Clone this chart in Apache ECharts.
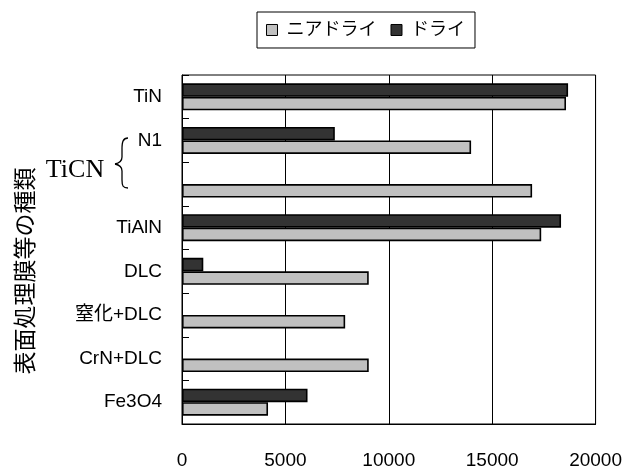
<!DOCTYPE html>
<html><head><meta charset="utf-8">
<script src="https://cdn.jsdelivr.net/npm/echarts@6/dist/echarts.min.js"></script>
<style>html,body{margin:0;padding:0;background:#fff}#c{width:625px;height:471px}</style>
</head><body><div id="c"></div>
<script>
const categories = ['TiN', 'N1', '', 'TiAlN', 'DLC', '窒化+DLC', 'CrN+DLC', 'Fe3O4'];
const nearDry = [18570, 13980, 16930, 17370, 9030, 7890, 9030, 4160];
const dry = [18670, 7390, null, 18330, 1030, null, null, 6070];
const xTicks = [0, 5000, 10000, 15000, 20000];
const seriesNames = ['ニアドライ', 'ドライ'];
const axisTitle = '表面処理膜等の種類';
const groupLabel = 'TiCN';

const jp = '"Liberation Sans", Arial, "Noto Sans CJK JP", sans-serif';
const braceStyle = { stroke: '#000', lineWidth: 1.3, fill: null };
const chart = echarts.init(document.getElementById('c'));
chart.setOption({
  animation: false,
  backgroundColor: '#fff',
  legend: {
    data: seriesNames,
    left: 257, top: 12,
    padding: [9, 10, 9, 9],
    itemGap: 14,
    borderColor: '#000', borderWidth: 1,
    icon: 'rect', itemWidth: 11, itemHeight: 11,
    textStyle: { fontSize: 18, color: '#000', fontFamily: jp, padding: [0, 0, 0, 4] },
    itemStyle: { borderColor: '#000', borderWidth: 1 }
  },
  grid: { left: 182, right: 28, top: 75, bottom: 47, show: true, borderColor: '#000', borderWidth: 1 },
  xAxis: {
    type: 'value', min: xTicks[0], max: xTicks[xTicks.length - 1], interval: xTicks[1] - xTicks[0],
    axisLine: { show: true, lineStyle: { color: '#000' } },
    axisTick: { show: false },
    splitLine: { show: true, lineStyle: { color: '#000', width: 1 } },
    axisLabel: { fontSize: 19, color: '#000', margin: 27, fontFamily: jp, formatter: v => String(v) }
  },
  yAxis: {
    type: 'category', data: categories, inverse: true,
    axisLine: { show: true, lineStyle: { color: '#000' } },
    axisTick: { show: true, inside: true, length: 7, lineStyle: { color: '#000' } },
    axisLabel: { fontSize: 19, color: '#000', margin: 20, fontFamily: jp, padding: [6, 0, 0, 0] }
  },
  series: [
    { name: seriesNames[1], type: 'bar', data: dry, barWidth: 13.5, barGap: '0%',
      itemStyle: { color: '#333333', borderColor: '#000', borderWidth: 1.6 } },
    { name: seriesNames[0], type: 'bar', data: nearDry, barWidth: 13.5, barGap: '0%',
      itemStyle: { color: '#c0c0c0', borderColor: '#000', borderWidth: 1.6 } }
  ],
  graphic: [
    { type: 'text', x: 24, y: 271, rotation: Math.PI / 2,
      style: { text: axisTitle, fontSize: 23, fill: '#000', align: 'center', verticalAlign: 'middle', fontFamily: '"Noto Sans CJK JP", sans-serif' } },
    { type: 'text', x: 75, y: 170,
      style: { text: groupLabel, fontSize: 26, fill: '#000', align: 'center', verticalAlign: 'middle', fontFamily: '"Liberation Serif", serif' } },
    { type: 'bezierCurve', shape: { x1: 128, y1: 138, cpx1: 123, cpy1: 138, cpx2: 122, cpy2: 142, x2: 122, y2: 149 }, style: braceStyle },
    { type: 'line', shape: { x1: 122, y1: 149, x2: 122, y2: 157 }, style: braceStyle },
    { type: 'bezierCurve', shape: { x1: 122, y1: 157, cpx1: 122, cpy1: 161, cpx2: 120, cpy2: 163, x2: 115, y2: 164 }, style: braceStyle },
    { type: 'bezierCurve', shape: { x1: 115, y1: 164, cpx1: 120, cpy1: 165, cpx2: 122, cpy2: 167, x2: 122, y2: 171 }, style: braceStyle },
    { type: 'line', shape: { x1: 122, y1: 171, x2: 122, y2: 180 }, style: braceStyle },
    { type: 'bezierCurve', shape: { x1: 122, y1: 180, cpx1: 122, cpy1: 186, cpx2: 123, cpy2: 188, x2: 128, y2: 188 }, style: braceStyle }
  ]
});
</script></body></html>
